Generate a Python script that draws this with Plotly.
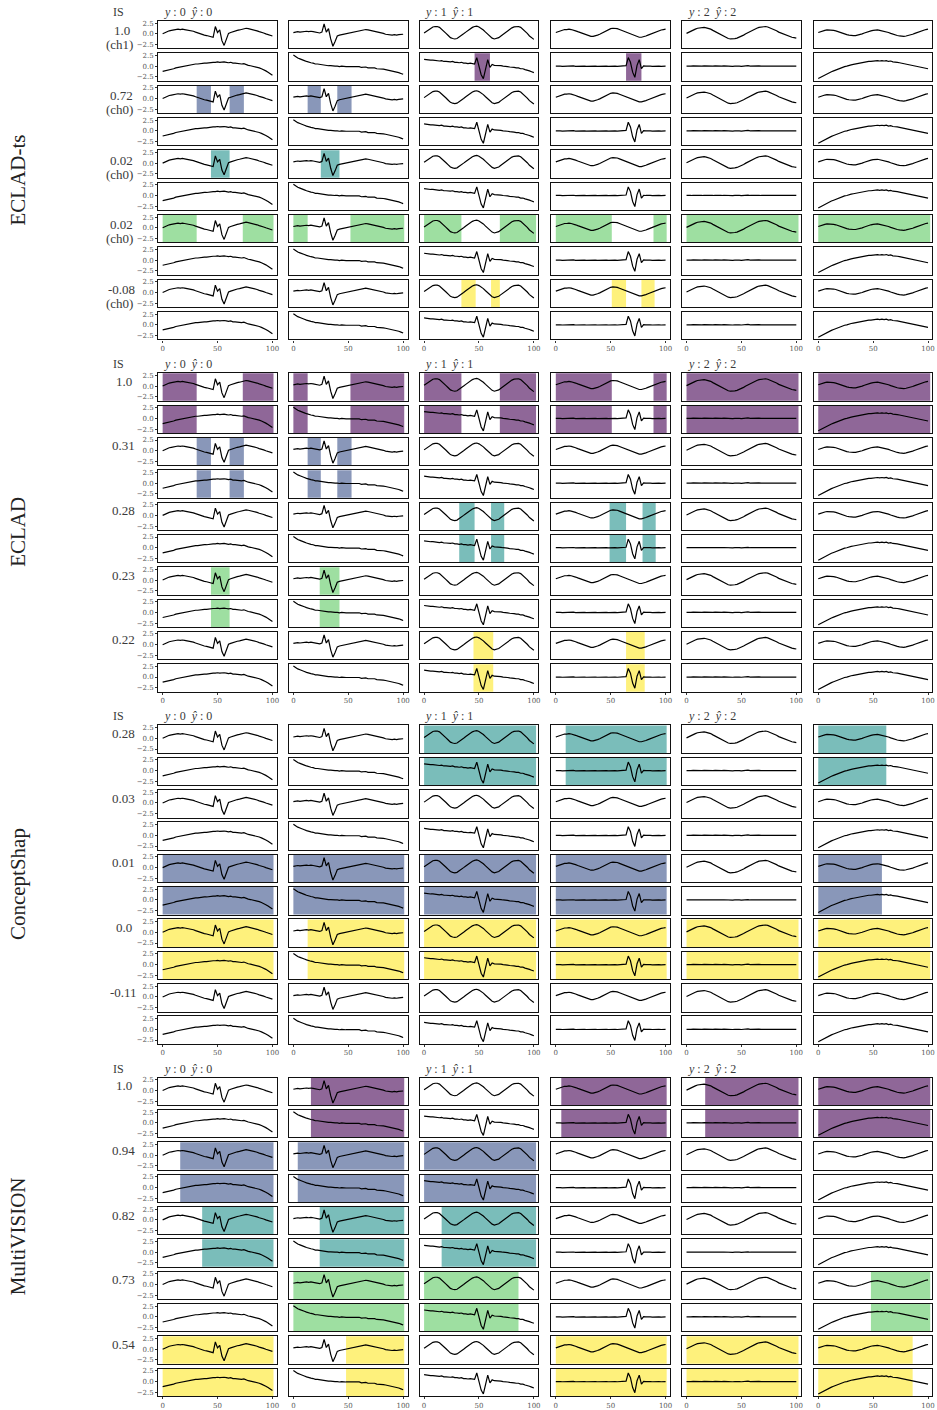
import plotly.graph_objects as go

# ---------------------------------------------------------------------------
# Time axis (every second step of a 100-step series)
T = list(range(0, 101, 2))

# Six example series (two per class), each with two channels
class0_a_ch0 = [0.0, 0.3, 0.5, 0.7, 0.8, 0.9, 1.0, 1.1, 1.0, 1.1,
                1.0, 0.9, 0.9, 0.7, 0.6, 0.4, 0.2, 0.1, -0.1, -0.3,
                -0.4, -0.5, -0.7, -0.8, 1.7, 0.3, 0.9, -1.6, -2.7, -1.0,
                0.1, 0.3, 0.5, 0.7, 0.8, 0.9, 1.0, 1.2, 1.3, 1.2,
                1.1, 1.0, 0.8, 0.7, 0.5, 0.4, 0.2, 0.0, -0.2, -0.3,
                -0.5]
class0_a_ch1 = [-1.2, -1.1, -1.0, -0.8, -0.7, -0.6, -0.4, -0.3, -0.1, -0.1,
                0.1, 0.2, 0.2, 0.3, 0.4, 0.5, 0.5, 0.6, 0.6, 0.7,
                0.7, 0.8, 0.8, 0.9, 0.9, 1.0, 0.9, 1.0, 1.0, 0.9,
                0.8, 0.9, 0.7, 0.7, 0.6, 0.5, 0.5, 0.6, 0.3, 0.2,
                0.1, 0.0, -0.2, -0.3, -0.4, -0.6, -0.8, -1.1, -1.4, -1.8,
                -2.1]
class0_b_ch0 = [0.3, 0.4, 0.5, 0.4, 0.5, 0.5, 0.6, 0.5, 0.6, 0.5,
                0.4, 0.3, 0.2, 0.4, 2.3, 0.4, 1.2, -1.2, -2.9, -1.8,
                -0.5, -0.3, -0.2, -0.1, 0.0, 0.1, 0.2, 0.3, 0.4, 0.5,
                0.6, 0.7, 0.8, 1.0, 0.9, 0.8, 0.7, 0.6, 0.5, 0.3,
                0.2, 0.1, -0.1, -0.2, -0.3, -0.3, -0.2, -0.3, -0.2, -0.1,
                -0.1]
class0_b_ch1 = [2.6, 2.2, 1.9, 1.7, 1.4, 1.3, 1.1, 0.9, 0.8, 0.7,
                0.5, 0.5, 0.4, 0.3, 0.3, 0.2, 0.1, 0.1, 0.0, 0.0,
                0.0, -0.1, 0.0, -0.1, -0.1, -0.1, -0.1, -0.2, -0.2, -0.2,
                -0.1, -0.3, -0.3, -0.2, -0.4, -0.4, -0.5, -0.4, -0.6, -0.6,
                -0.7, -0.7, -0.8, -0.9, -1.0, -1.1, -1.2, -1.4, -1.5, -1.7,
                -1.9]
class1_a_ch0 = [0.2, 0.6, 1.0, 1.3, 1.6, 1.7, 1.7, 1.5, 1.1, 0.6,
                0.1, -0.4, -0.9, -1.1, -1.2, -1.1, -0.8, -0.4, 0.0, 0.4,
                0.8, 1.2, 1.5, 1.7, 1.8, 1.6, 1.3, 0.9, 0.4, -0.1,
                -0.6, -1.0, -1.2, -1.1, -0.9, -0.5, -0.1, 0.3, 0.7, 1.1,
                1.4, 1.6, 1.7, 1.7, 1.5, 1.1, 0.6, 0.1, -0.5, -1.0,
                -1.3]
class1_a_ch1 = [1.6, 1.5, 1.5, 1.4, 1.4, 1.3, 1.3, 1.2, 1.3, 1.1,
                1.1, 1.0, 1.0, 1.1, 0.9, 0.9, 0.8, 0.9, 0.7, 0.7,
                0.6, 0.7, 0.6, 0.5, 2.0, 0.2, -2.0, -2.9, -0.5, 1.5,
                -0.3, 0.4, 0.2, 0.2, 0.1, 0.1, 0.0, 0.0, -0.1, -0.2,
                -0.2, -0.3, -0.4, -0.4, -0.6, -0.6, -0.8, -0.9, -1.1, -1.3,
                -1.5]
class1_b_ch0 = [0.3, 0.5, 0.7, 0.8, 1.0, 1.0, 1.1, 1.0, 0.9, 0.7,
                0.5, 0.3, 0.1, -0.1, -0.3, -0.5, -0.6, -0.6, -0.5, -0.3,
                -0.1, 0.2, 0.5, 0.8, 1.0, 1.2, 1.3, 1.3, 1.2, 1.0,
                0.8, 0.6, 0.3, 0.1, -0.1, -0.3, -0.5, -0.7, -0.8, -0.8,
                -0.7, -0.5, -0.3, -0.1, 0.2, 0.4, 0.6, 0.8, 0.9, 1.0,
                1.1]
class1_b_ch1 = [0.0, 0.05, 0.0, -0.05, 0.0, 0.05, 0.0, 0.0, 0.05, -0.05,
                0.0, 0.0, 0.05, 0.0, -0.05, 0.0, 0.05, 0.0, 0.0, -0.05,
                0.0, 0.05, 0.0, 0.0, -0.05, 0.0, 0.05, 0.0, -0.05, 0.0,
                0.05, 0.0, 0.1, 2.0, 0.9, -1.4, -2.6, 0.2, 1.5, -0.6,
                0.05, 0.0, 0.05, 0.0, -0.05, 0.0, 0.05, 0.0, -0.05, 0.0,
                0.0]
class2_a_ch0 = [0.1, 0.4, 0.7, 0.9, 1.1, 1.3, 1.4, 1.5, 1.5, 1.4,
                1.3, 1.1, 0.8, 0.5, 0.2, -0.1, -0.4, -0.7, -0.9, -1.1,
                -1.2, -1.2, -1.1, -1.0, -0.8, -0.5, -0.3, 0.0, 0.3, 0.6,
                0.8, 1.1, 1.3, 1.5, 1.6, 1.7, 1.7, 1.6, 1.4, 1.2,
                1.0, 0.7, 0.4, 0.2, -0.1, -0.3, -0.5, -0.7, -0.8, -0.9,
                -1.0]
class2_a_ch1 = [0.0, -0.05, 0.0, 0.05, 0.0, 0.0, -0.05, 0.0, 0.05, 0.0,
                -0.05, 0.0, 0.0, 0.05, 0.0, -0.05, 0.0, 0.05, 0.0, 0.0,
                0.05, -0.05, 0.0, 0.05, 0.0, -0.05, 0.05, 0.0, 0.1, 0.0,
                0.05, 0.0, 0.1, 0.05, 0.0, 0.0, 0.05, 0.0, -0.05, 0.05,
                0.0, -0.05, 0.0, 0.05, 0.0, -0.05, 0.0, 0.0, -0.05, 0.0,
                0.0]
class2_b_ch0 = [0.3, 0.5, 0.6, 0.8, 0.9, 0.9, 0.9, 0.8, 0.7, 0.5,
                0.3, 0.1, -0.1, -0.2, -0.3, -0.4, -0.4, -0.4, -0.3, -0.2,
                0.0, 0.2, 0.4, 0.6, 0.7, 0.8, 0.9, 0.9, 0.8, 0.7,
                0.6, 0.4, 0.3, 0.1, -0.1, -0.2, -0.4, -0.5, -0.6, -0.6,
                -0.5, -0.4, -0.3, -0.1, 0.1, 0.3, 0.5, 0.7, 0.8, 1.0,
                1.1]
class2_b_ch1 = [-2.9, -2.6, -2.3, -2.1, -1.8, -1.6, -1.3, -1.1, -0.9, -0.6,
                -0.5, -0.3, -0.1, 0.0, 0.2, 0.3, 0.4, 0.5, 0.7, 0.8,
                0.8, 0.9, 1.0, 1.1, 1.1, 1.2, 1.2, 1.3, 1.2, 1.3,
                1.2, 1.3, 1.1, 1.2, 1.0, 1.0, 0.9, 0.8, 0.7, 0.6,
                0.5, 0.4, 0.3, 0.2, 0.1, 0.0, -0.1, -0.2, -0.3, -0.5,
                -0.6]

SAMPLES = [
    (class0_a_ch0, class0_a_ch1),
    (class0_b_ch0, class0_b_ch1),
    (class1_a_ch0, class1_a_ch1),
    (class1_b_ch0, class1_b_ch1),
    (class2_a_ch0, class2_a_ch1),
    (class2_b_ch0, class2_b_ch1),
]

COLUMN_HEADERS = ["<i>y</i> : 0  <i>ŷ</i> : 0", "<i>y</i> : 1  <i>ŷ</i> : 1",
                  "<i>y</i> : 2  <i>ŷ</i> : 2"]

METHODS = ["ECLAD-ts", "ECLAD", "ConceptShap", "MultiVISION"]

# importance scores and channel tags per concept
eclad_ts_is = ["1.0", "0.72", "0.02", "0.02", "-0.08"]
eclad_ts_channel = ["ch1", "ch0", "ch0", "ch0", "ch0"]
eclad_is = ["1.0", "0.31", "0.28", "0.23", "0.22"]
conceptshap_is = ["0.28", "0.03", "0.01", "0.0", "-0.11"]
multivision_is = ["1.0", "0.94", "0.82", "0.73", "0.54"]

# concept colours (viridis, 5 levels)
PURPLE, BLUE, TEAL, GREEN, YELLOW = "#440154", "#3b528b", "#21918c", "#5ec962", "#fde725"

eclad_ts_colors = [PURPLE, BLUE, TEAL, GREEN, YELLOW]
eclad_colors = [PURPLE, BLUE, TEAL, GREEN, YELLOW]
conceptshap_colors = [TEAL, PURPLE, BLUE, YELLOW, GREEN]
multivision_colors = [PURPLE, BLUE, TEAL, GREEN, YELLOW]

# concept segments per concept, per sample column: list of (start, end)
eclad_ts_segments = [
    [[], [], [(46, 60)], [(64, 78)], [], []],
    [[(31, 44), (61, 74)], [(13, 25), (40, 53)], [], [], [], []],
    [[(44, 61)], [(25, 42)], [], [], [], []],
    [[(0, 31), (73, 101)], [(0, 13), (52, 101)], [(0, 34), (69, 102)],
     [(0, 51), (89, 101)], [(0, 102)], [(0, 102)]],
    [[], [], [(34, 47), (61, 69)], [(51, 64), (78, 90)], [], []],
]
eclad_segments = [
    [[(0, 31), (73, 101)], [(0, 13), (52, 101)], [(0, 34), (69, 102)],
     [(0, 51), (89, 101)], [(0, 102)], [(0, 102)]],
    [[(31, 44), (61, 74)], [(13, 25), (40, 53)], [], [], [], []],
    [[], [], [(32, 46), (61, 73)], [(49, 64), (79, 91)], [], []],
    [[(44, 61)], [(24, 42)], [], [], [], []],
    [[], [], [(45, 63)], [(64, 81)], [], []],
]
conceptshap_segments = [
    [[], [], [(0, 102)], [(9, 101)], [], [(0, 62)]],
    [[], [], [], [], [], []],
    [[(0, 101)], [(0, 101)], [(0, 102)], [(0, 101)], [], [(0, 58)]],
    [[(0, 101)], [(13, 101)], [(0, 102)], [(0, 101)], [(0, 102)], [(0, 102)]],
    [[], [], [], [], [], []],
]
multivision_segments = [
    [[], [(16, 101)], [], [(5, 101)], [(17, 102)], [(0, 102)]],
    [[(16, 101)], [(4, 101)], [(0, 102)], [], [], []],
    [[(36, 101)], [(24, 101)], [(16, 102)], [], [], []],
    [[], [(0, 101)], [(0, 86)], [], [], [(48, 102)]],
    [[(0, 101)], [(48, 101)], [], [(0, 101)], [(0, 102)], [(0, 86)]],
]

# which channel rows carry the highlight: None = both
eclad_ts_rows = [1, 0, 0, 0, 0]

GROUPS = [
    dict(name=METHODS[0], scores=eclad_ts_is, channels=eclad_ts_channel,
         colors=eclad_ts_colors, segments=eclad_ts_segments, rows=eclad_ts_rows),
    dict(name=METHODS[1], scores=eclad_is, channels=None,
         colors=eclad_colors, segments=eclad_segments, rows=None),
    dict(name=METHODS[2], scores=conceptshap_is, channels=None,
         colors=conceptshap_colors, segments=conceptshap_segments, rows=None),
    dict(name=METHODS[3], scores=multivision_is, channels=None,
         colors=multivision_colors, segments=multivision_segments, rows=None),
]

# ---------------------------------------------------------------------------
# Geometry (pixels)
FIG_W, FIG_H = 937, 1410
X_RANGE = [-4, 104]
Y_RANGE = [-3.4, 3.0]
PX_PER_UNIT = 1.1
COL_ZERO = [163, 294, 425, 557, 688, 820]
BOX_W = (X_RANGE[1] - X_RANGE[0]) * PX_PER_UNIT
GROUP_TOP = [20, 373, 726, 1079]
ROW_PITCH = 32.4
ROW_H = 27.5

SERIF = "Liberation Serif"
TICK_FONT = dict(family="DejaVu Serif", size=7, color="#555555")
LABEL_COLOR = "#3a3a3a"


def px_x(x):
    return x / FIG_W


def px_y(y):
    return 1 - y / FIG_H


def hex_rgba(h, a):
    h = h.lstrip("#")
    r, g, b = int(h[0:2], 16), int(h[2:4], 16), int(h[4:6], 16)
    return f"rgba({r},{g},{b},{a})"


fig = go.Figure()
layout = {}
shapes = []
annotations = []

n = 0
for g, grp in enumerate(GROUPS):
    top0 = GROUP_TOP[g]
    for k in range(5):
        for c in range(2):
            row = 2 * k + c
            top = top0 + row * ROW_PITCH
            bottom = top + ROW_H
            last_row = (row == 9)
            for j in range(6):
                n += 1
                xa = "x" if n == 1 else f"x{n}"
                ya = "y" if n == 1 else f"y{n}"
                xkey = "xaxis" if n == 1 else f"xaxis{n}"
                ykey = "yaxis" if n == 1 else f"yaxis{n}"
                left = COL_ZERO[j] + X_RANGE[0] * PX_PER_UNIT
                layout[xkey] = dict(
                    domain=[px_x(left), px_x(left + BOX_W)], range=X_RANGE,
                    anchor=ya, showline=True, mirror=True, linecolor="#111111",
                    linewidth=1.3, showgrid=False, zeroline=False,
                    ticks="outside" if last_row else "", ticklen=2,
                    tickwidth=0.8, tickcolor="#333333",
                    tickvals=[0, 50, 100], showticklabels=last_row,
                    tickfont=TICK_FONT, fixedrange=True)
                layout[ykey] = dict(
                    domain=[px_y(bottom), px_y(top)], range=Y_RANGE,
                    anchor=xa, showline=True, mirror=True, linecolor="#111111",
                    linewidth=1.3, showgrid=False, zeroline=False,
                    ticks="outside" if j == 0 else "", ticklen=2,
                    tickwidth=0.8, tickcolor="#333333",
                    tickvals=[-2.5, 0, 2.5], ticktext=["\u22122.5", "0.0", "2.5"],
                    showticklabels=(j == 0), tickfont=TICK_FONT, fixedrange=True)
                fig.add_trace(go.Scatter(
                    x=T, y=SAMPLES[j][c], mode="lines",
                    line=dict(color="black", width=1.2),
                    xaxis=xa, yaxis=ya, hoverinfo="skip", showlegend=False))
                # concept highlights
                rows_rule = grp["rows"]
                if rows_rule is None or rows_rule[k] == c:
                    for (s0, s1) in grp["segments"][k][j]:
                        shapes.append(dict(
                            type="rect", xref=xa, yref=f"{ya} domain",
                            x0=s0, x1=s1, y0=0, y1=1,
                            fillcolor=hex_rgba(grp["colors"][k], 0.6),
                            line=dict(width=0), layer="below"))
        # importance score labels
        ktop = top0 + 2 * k * ROW_PITCH
        if grp["channels"] is not None:
            annotations.append(dict(
                x=px_x(122), y=px_y(ktop + 10), xref="paper", yref="paper",
                text=grp["scores"][k], showarrow=False,
                font=dict(family=SERIF, size=13, color=LABEL_COLOR),
                xanchor="center", yanchor="middle"))
            annotations.append(dict(
                x=px_x(120), y=px_y(ktop + 24), xref="paper", yref="paper",
                text=f"({grp['channels'][k]})", showarrow=False,
                font=dict(family=SERIF, size=13, color=LABEL_COLOR),
                xanchor="center", yanchor="middle"))
        else:
            annotations.append(dict(
                x=px_x(124), y=px_y(ktop + 8), xref="paper", yref="paper",
                text=grp["scores"][k], showarrow=False,
                font=dict(family=SERIF, size=13, color=LABEL_COLOR),
                xanchor="center", yanchor="middle"))
    # header row
    annotations.append(dict(
        x=px_x(111), y=px_y(top0 - 9), xref="paper", yref="paper",
        text="IS", showarrow=False,
        font=dict(family=SERIF, size=12, color=LABEL_COLOR),
        xanchor="left", yanchor="middle"))
    for h, head in enumerate(COLUMN_HEADERS):
        annotations.append(dict(
            x=px_x(COL_ZERO[2 * h] - 1), y=px_y(top0 - 9), xref="paper",
            yref="paper", text=head, showarrow=False,
            font=dict(family=SERIF, size=12, color=LABEL_COLOR),
            xanchor="left", yanchor="middle"))
    # method name
    annotations.append(dict(
        x=px_x(18), y=px_y(top0 + 5 * ROW_PITCH - 3), xref="paper",
        yref="paper", text=grp["name"], showarrow=False, textangle=-90,
        font=dict(family=SERIF, size=21, color="#222222"),
        xanchor="center", yanchor="middle"))

fig.update_layout(
    width=FIG_W, height=FIG_H, margin=dict(l=0, r=0, t=0, b=0),
    paper_bgcolor="white", plot_bgcolor="white", showlegend=False,
    shapes=shapes, annotations=annotations, **layout)

fig.write_html("out.html")
